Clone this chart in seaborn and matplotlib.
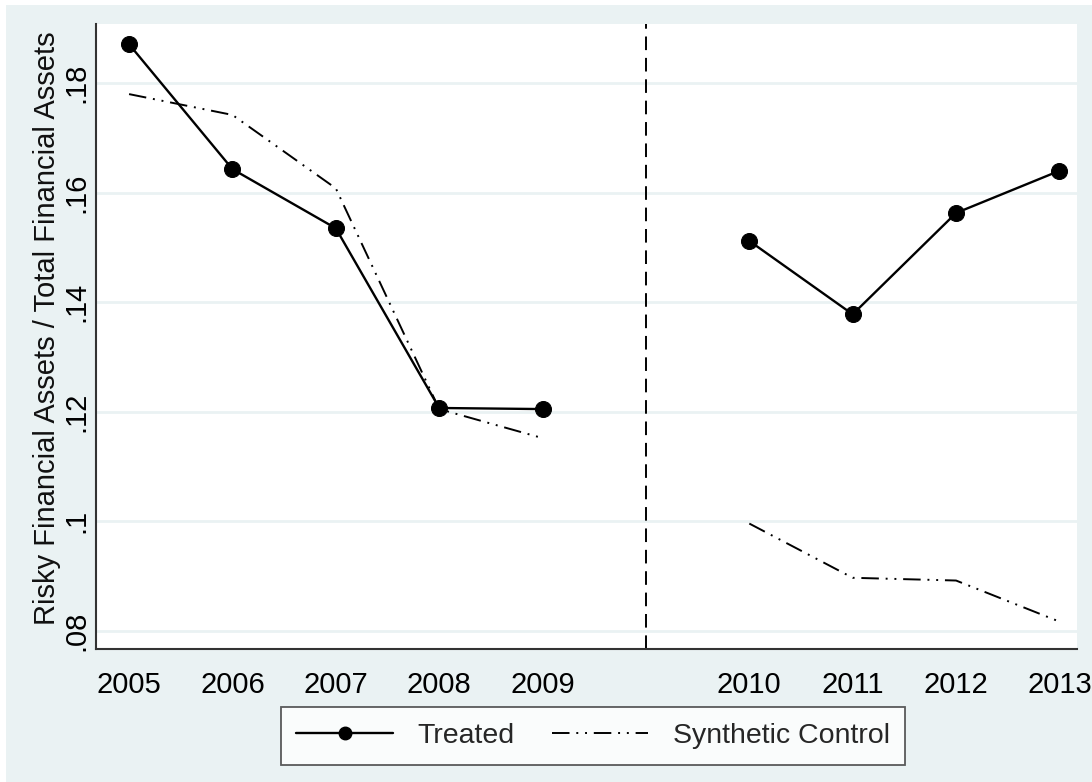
import numpy as np
import pandas as pd
import matplotlib
matplotlib.use("Agg")
import matplotlib.pyplot as plt
from matplotlib.lines import Line2D
import seaborn as sns

years = [2005, 2006, 2007, 2008, 2009, 2010, 2011, 2012, 2013]
treated = [0.1871, 0.1643, 0.1535, 0.1207, 0.1205, 0.1512, 0.1378, 0.1563, 0.1640]
synthetic = [0.1780, 0.1742, 0.1608, 0.1205, 0.1152, 0.0996, 0.0897, 0.0892, 0.0817]
treatment_year = 2010
ytick_vals = [0.08, 0.10, 0.12, 0.14, 0.16, 0.18]
ytick_labels = [".08", ".1", ".12", ".14", ".16", ".18"]
ylabel = "Risky Financial Assets / Total Financial Assets"
legend_labels = ["Treated", "Synthetic Control"]

BG = "#EAF2F3"

# positions with a gap slot before the treatment year
pos = [i + (1 if y >= treatment_year else 0) for i, y in enumerate(years)]
period = ["pre" if y < treatment_year else "post" for y in years]
gap_pos = pos[years.index(treatment_year)] - 1

df = pd.DataFrame({"year": years, "pos": pos, "period": period,
                   "Treated": treated, "Synthetic": synthetic})

sns.set_theme(style="white")
plt.rcParams["font.family"] = ["Liberation Sans", "DejaVu Sans"]

fig = plt.figure(figsize=(10.92, 7.82), dpi=100, facecolor="white")
fig.patches.append(plt.Rectangle((6 / 1092, 0), 1 - 6 / 1092, 1 - 5 / 782,
                                 transform=fig.transFigure, facecolor=BG,
                                 edgecolor="none", zorder=-10))
ax = fig.add_axes([96 / 1092, 1 - 649 / 782, (1077 - 96) / 1092, (649 - 24) / 782])
ax.set_facecolor("white")

for yv in ytick_vals:
    ax.axhline(yv, color=BG, lw=2, zorder=0)

sns.lineplot(data=df, x="pos", y="Synthetic", units="period", estimator=None,
             color="black", lw=1.4, dashes=False, ax=ax, zorder=2)
for ln in ax.lines[-2:]:
    ln.set_dashes((9, 3.5, 1, 3.5, 1, 3.5))

sns.lineplot(data=df, x="pos", y="Treated", units="period", estimator=None,
             color="black", lw=1.7, marker="o", markersize=11.5,
             markeredgecolor="black", ax=ax, zorder=3)

ax.axvline(gap_pos, color="black", lw=1.4, dashes=(7, 4), zorder=1)

ax.set_xlim(-0.32, 9.17)
ax.set_ylim(0.0767, 0.1908)
ax.set_xticks(pos + [gap_pos])
ax.set_xticklabels([str(y) for y in years] + [""])
ax.set_yticks(ytick_vals)
ax.set_yticklabels(ytick_labels, rotation=90, va="center")
ax.tick_params(axis="both", which="major", length=8, width=1.2, color="#333333",
               labelsize=21, labelcolor="black", direction="out")
ax.tick_params(axis="x", pad=8)
ax.tick_params(axis="y", pad=-4)
ax.set_xlabel("")
ax.set_ylabel(ylabel, fontsize=21, color="#111111")
ax.yaxis.set_label_coords(-0.036, 0.513)

for s in ["top", "right"]:
    ax.spines[s].set_visible(False)
for s in ["left", "bottom"]:
    ax.spines[s].set_color("#333333")
    ax.spines[s].set_linewidth(1.5)

handles = [
    Line2D([], [], color="black", lw=1.7, marker="o", markersize=9),
    Line2D([], [], color="black", lw=1.4, dashes=(9, 3.5, 1, 3.5, 1, 3.5)),
]
leg = fig.legend(handles, legend_labels, loc="center", ncol=2,
                 bbox_to_anchor=(593 / 1092, 1 - 736 / 782),
                 fontsize=20.5, frameon=True, fancybox=False,
                 edgecolor="#333333", facecolor="white", handlelength=3.4,
                 columnspacing=1.3, handletextpad=0.85, borderpad=0.55)
leg.get_frame().set_linewidth(1.3)

fig.savefig("out.png", dpi=100, facecolor=fig.get_facecolor())
